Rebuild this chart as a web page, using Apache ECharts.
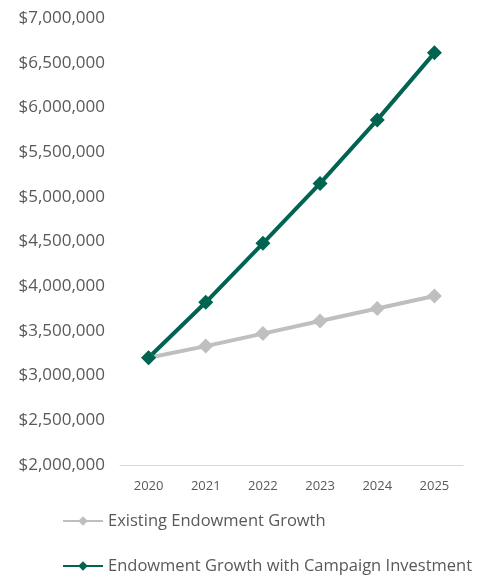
<!DOCTYPE html>
<html><head><meta charset="utf-8">
<script src="https://cdn.jsdelivr.net/npm/echarts@6/dist/echarts.min.js"></script>
<style>html,body{margin:0;padding:0;background:#fff}#c{width:497px;height:575px}</style>
</head><body><div id="c"></div>
<script>
const years = ['2020','2021','2022','2023','2024','2025'];
const existing = [3200000, 3330000, 3470000, 3610000, 3750000, 3890000];
const campaign = [3200000, 3820000, 4480000, 5150000, 5860000, 6610000];
const chart = echarts.init(document.getElementById('c'));
const font = 'Open Sans';
chart.setOption({
  animation: false,
  grid: {left: 120, right: 34, top: 18, bottom: 110},
  xAxis: {
    type: 'category', data: years, boundaryGap: true,
    axisLine: {lineStyle: {color: '#d9d9d9', width: 1}},
    axisTick: {show: false},
    axisLabel: {color: '#595959', fontFamily: font, fontSize: 13, margin: 15}
  },
  yAxis: {
    type: 'value', min: 2000000, max: 7000000, interval: 500000,
    splitLine: {show: false},
    axisLabel: {color: '#595959', fontFamily: font, fontSize: 17, margin: 15,
      formatter: v => '$' + v.toLocaleString('en-US')}
  },
  legend: {
    orient: 'vertical', left: 62, top: 512, padding: 0, itemGap: 27, itemWidth: 40, itemHeight: 12,
    height: 63,
    textStyle: {color: '#595959', fontFamily: font, fontSize: 16.5, height: 18, lineHeight: 18},
    data: ['Existing Endowment Growth', 'Endowment Growth with Campaign Investment']
  },
  series: [
    {name: 'Existing Endowment Growth', type: 'line', data: existing,
     symbol: 'diamond', symbolSize: 15, lineStyle: {color: '#bfbfbf', width: 4},
     itemStyle: {color: '#bfbfbf'}},
    {name: 'Endowment Growth with Campaign Investment', type: 'line', data: campaign,
     symbol: 'diamond', symbolSize: 15, lineStyle: {color: '#006450', width: 4},
     itemStyle: {color: '#006450'}}
  ]
});
</script></body></html>
